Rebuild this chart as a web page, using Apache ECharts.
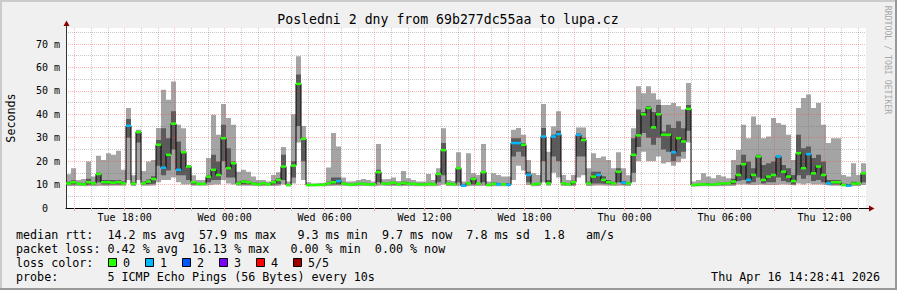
<!DOCTYPE html>
<html><head><meta charset="utf-8">
<script src="https://cdn.jsdelivr.net/npm/echarts@6/dist/echarts.min.js"></script>
<style>html,body{margin:0;padding:0;background:#f0f0f0}#c{width:897px;height:290px}</style>
</head><body><div id="c"></div>
<script>
// ---- time axis (hours since Tue 00:00) ----
const START_H = 14.48, BIN_H = 0.3, END_H = 62.48;
const Y_MAX = 76.83;
const tickHours = [18, 24, 30, 36, 42, 48, 54, 60];
const tickLabels = ['Tue 18:00', 'Wed 00:00', 'Wed 06:00', 'Wed 12:00', 'Wed 18:00', 'Thu 00:00', 'Thu 06:00', 'Thu 12:00'];
const yLabelVals = [0, 10, 20, 30, 40, 50, 60, 70];

// ---- smoke / median data (ms), one value per 0.3 h bin ----
const maxV = [14.4,17.0,12.0,12.4,19.8,13.4,22.3,20.5,23.4,22.7, 24.4,16.3,42.7,14.0,33.4,15.8,19.8,20.5,34.1,50.5, 46.2,54.0,35.5,34.0,18.4,14.0,12.0,12.0,21.3,39.8, 31.3,44.4,38.4,35.5,15.5,16.3,15.5,13.4,12.0,12.0,
11.3,14.1,15.3,26.0,11.3,40.0,64.8,35.0,11.0,10.5, 10.7,10.8,17.3,32.0,26.3,13.0,11.3,11.5,12.0,12.4, 12.0,11.3,27.3,12.3,12.4,13.0,11.5,15.8,12.7,12.0, 11.3,11.3,14.5,12.0,17.0,34.0,12.0,11.5,23.8,11.3,
23.4,14.8,14.1,27.3,11.3,14.8,14.1,13.4,13.4,33.4, 34.1,31.3,20.5,14.8,14.1,44.4,24.0,34.8,41.3,14.1, 12.0,14.1,34.4,34.4,17.0,23.4,21.3,22.0,20.5,17.0, 23.8,17.0,14.0,34.0,52.0,49.0,52.0,49.0,46.3,44.0,
44.0,44.8,43.4,42.0,53.4,11.3,12.0,14.8,13.4,12.7, 14.1,13.4,12.7,20.5,24.8,35.5,29.8,39.1,35.5,29.8, 30.5,38.4,36.3,35.5,31.3,20.5,42.7,47.0,48.4,42.7, 44.8,35.5,27.7,29.8,29.8,14.1,13.4,19.1,14.1,19.1];
const hiV = [11.2,11.8,10.8,10.6,12.5,11.0,15.0,12.0,12.0,11.8, 12.0,11.3,38.0,11.0,32.6,11.2,12.2,13.5,29.0,34.0, 29.8,41.3,28.4,24.0,18.0,11.5,10.7,10.7,14.0,22.7, 19.8,35.5,25.5,19.8,11.2,12.0,11.6,10.9,10.6,11.0,
10.5,11.6,12.7,22.7,10.2,20.0,57.0,30.0,10.2,10.1, 10.2,10.2,11.2,13.0,13.0,10.9,10.4,10.4,10.8,10.8, 10.5,10.5,16.3,10.8,10.8,11.2,10.5,11.3,10.8,10.6, 10.4,10.4,10.8,10.5,15.0,27.7,10.8,10.5,17.5,10.0,
11.0,13.0,10.8,15.5,10.2,10.9,10.6,10.6,10.4,29.8, 29.8,27.7,15.5,10.7,10.9,34.1,12.0,31.3,33.0,11.0, 10.5,11.6,31.8,30.0,11.2,15.5,15.5,13.5,12.0,11.2, 17.0,11.5,11.0,29.8,42.0,41.0,43.5,41.0,44.0,32.7,
35.5,34.1,37.0,34.0,44.0,10.2,10.4,10.7,10.4,10.4, 10.8,11.0,11.0,12.5,18.4,22.7,19.8,17.0,22.7,18.4, 19.1,19.8,22.5,18.4,17.0,14.1,31.3,25.5,26.3,21.3, 22.7,19.8,12.0,12.0,11.8,10.3,10.0,11.2,11.0,15.0];
const medV = [10.5,11.0,10.4,10.1,11.0,10.5,14.5,11.0,11.0,10.8, 11.0,10.5,35.1,10.4,32.4,10.5,11.3,12.4,27.0,17.2, 22.7,36.0,16.3,23.8,17.7,11.0,10.3,10.3,13.4,16.3, 14.1,29.8,17.0,19.1,10.5,11.3,11.0,10.4,10.1,10.5,
10.1,11.0,12.0,17.7,9.8,18.1,53.0,29.5,9.8,9.8, 9.9,9.9,10.5,11.0,11.5,10.4,10.0,10.0,10.4,10.3, 10.1,10.1,15.3,10.4,10.4,10.8,10.1,10.7,10.4,10.3, 10.1,10.0,10.3,10.1,14.5,24.7,10.4,10.1,17.0,9.5,
10.5,12.4,10.4,15.3,9.8,10.3,10.1,10.1,9.9,27.7, 27.7,27.0,14.1,10.1,10.4,30.5,10.5,30.5,31.5,10.5, 10.1,11.0,31.2,29.0,10.5,13.4,14.1,12.0,11.0,10.5, 15.5,10.8,10.5,22.7,31.0,40.0,42.7,34.4,40.0,31.3,
31.2,23.8,29.8,28.4,42.3,9.8,10.0,10.1,10.0,10.0, 10.3,10.5,10.5,11.3,14.1,18.7,12.0,14.1,22.0,12.0, 13.4,14.1,22.0,15.5,13.4,11.5,23.4,17.0,23.0,14.8, 17.7,14.1,10.5,11.0,11.0,9.8,9.5,10.4,10.5,14.8];
const loV = [10.0,10.0,10.0,9.8,10.0,9.9,11.0,10.0,10.0,10.0, 10.0,10.0,30.0,10.0,28.0,10.0,10.2,10.5,18.0,14.0, 16.0,25.0,14.0,14.0,12.0,10.0,10.0,10.0,11.0,12.0, 12.0,20.0,13.0,13.0,10.0,10.0,10.0,10.0,9.8,10.0,
9.8,10.0,10.2,12.0,9.6,13.0,35.0,20.0,9.6,9.6, 9.6,9.6,10.0,10.0,10.0,10.0,9.7,9.7,10.0,10.0, 9.8,9.8,11.0,10.0,10.0,10.0,9.8,10.0,10.0,9.9, 9.8,9.7,9.9,9.8,11.0,14.0,10.0,9.8,11.0,9.4,
10.0,10.0,10.0,11.0,9.6,9.9,9.8,9.8,9.7,22.0, 24.0,22.0,11.0,9.8,10.0,20.0,10.0,22.0,20.0,10.0, 9.8,10.0,22.0,22.0,10.0,10.5,10.5,10.2,10.0,10.0, 11.0,10.0,10.0,15.0,26.0,32.0,30.0,27.0,30.0,25.0,
24.0,20.0,22.0,24.0,33.0,9.5,9.7,9.8,9.7,9.7, 9.9,10.0,10.0,10.0,11.5,12.0,10.5,11.0,13.0,10.5, 11.0,11.0,13.0,11.5,11.0,10.0,14.0,12.5,14.0,11.5, 12.0,11.0,10.0,10.0,10.0,9.6,9.4,10.0,10.0,11.0];
const minV = [9.4,9.4,9.4,9.3,9.4,9.3,9.5,9.4,9.5,9.5, 9.5,9.5,12.0,9.4,12.0,9.5,9.5,9.6,11.0,12.0, 12.0,13.0,11.0,10.0,10.0,9.5,9.5,9.5,9.8,10.0, 10.0,12.0,10.5,10.0,9.5,9.5,9.5,9.4,9.3,9.4,
9.4,9.4,9.5,10.0,9.3,10.5,28.0,12.0,9.3,9.3, 9.3,9.3,9.4,9.5,9.5,9.4,9.3,9.3,9.4,9.4, 9.3,9.3,9.6,9.4,9.4,9.4,9.3,9.4,9.4,9.3, 9.3,9.3,9.3,9.3,9.6,10.0,9.4,9.3,9.6,9.2,
9.4,9.4,9.4,9.5,9.3,9.3,9.3,9.3,9.3,12.0, 18.0,16.0,9.8,9.3,9.4,11.0,9.5,15.0,13.0,9.4, 9.3,9.4,13.0,14.0,9.4,9.6,9.6,9.5,9.5,9.4, 9.6,9.4,9.4,11.0,20.0,24.0,20.0,20.0,22.0,19.0,
19.5,18.0,19.5,21.0,28.0,9.2,9.3,9.3,9.3,9.3, 9.3,9.4,9.4,9.5,10.0,10.0,9.8,9.8,10.0,9.8, 9.8,9.8,10.0,10.0,9.8,9.6,10.5,10.0,10.5,10.0, 10.0,9.8,9.5,9.5,9.5,9.3,9.2,9.4,9.4,9.8];
const lossV = [0,0,0,0,0,0,0,0,0,0, 0,0,1,0,0,0,0,0,0,1, 0,0,1,0,0,0,0,0,0,0, 0,0,0,0,0,0,0,0,0,0,
0,0,0,0,0,0,0,0,0,0, 0,0,0,0,1,0,0,0,0,0, 0,0,0,0,0,0,0,0,0,0, 0,0,0,0,0,0,0,0,0,1,
0,0,0,0,0,0,1,0,1,1, 1,0,1,0,0,1,0,1,1,0, 0,0,1,0,0,0,1,0,0,0, 0,1,0,0,0,0,0,0,0,0,
0,1,0,0,0,0,0,0,0,0, 0,0,0,0,0,0,1,0,0,0, 0,0,1,0,0,0,0,0,1,0, 0,0,1,0,0,0,1,0,0,0];

const LOSS_COLORS = ['#26ff00', '#00b8ff', '#0059ff', '#7e00ff', '#ff0000', '#a10000'];
const LOSS_LABELS = ['0', '1', '2', '3', '4', '5/5'];

const MONO = '"DejaVu Sans Mono", monospace';
const MINOR = 'rgba(110,110,110,0.38)';
const MAJOR = 'rgba(255,60,60,0.38)';

const minorHours = [], majorHours = [];
for (let h = 15; h <= 62; h++) (h % 3 === 0 ? majorHours : minorHours).push(h);
const minorY = [5, 15, 25, 35, 45, 55, 65, 75];
const majorY = [10, 20, 30, 40, 50, 60, 70];

function stepData(arr) {
  const d = arr.map((v, i) => [START_H + BIN_H * i, v]);
  d.push([END_H, arr[arr.length - 1]]);
  return d;
}
function smoke(arr, color) {
  return { type: 'line', step: 'end', data: stepData(arr), symbol: 'none', silent: true, z: 2,
    lineStyle: { width: 0, opacity: 0 }, areaStyle: { color: color, opacity: 1 } };
}
const nb = s => s.replace(/ /g, '\u00a0');
const LFONT = '11.7px ' + MONO;
function txt(text, x, y, align, extra) {
  return Object.assign({ type: 'text', x: x, y: y, silent: true,
    style: { text: nb(text), x: 0, y: 0, font: LFONT, fill: '#000', align: align || 'left', verticalAlign: 'middle',
      textAlign: align || 'left', textVerticalAlign: 'middle' } }, extra || {});
}

const graphics = [
  { type: 'rect', shape: { x: 0, y: 0, width: 897, height: 2 }, style: { fill: '#cbcbcb' }, silent: true },
  { type: 'rect', shape: { x: 0, y: 0, width: 2, height: 290 }, style: { fill: '#cbcbcb' }, silent: true },
  { type: 'rect', shape: { x: 0, y: 288, width: 897, height: 2 }, style: { fill: '#999999' }, silent: true },
  { type: 'rect', shape: { x: 895, y: 0, width: 2, height: 290 }, style: { fill: '#999999' }, silent: true },
  txt('Posledni 2 dny from 69b277dc55aa to lupa.cz', 448, 19, 'center', {}),
  txt('Seconds', 10.5, 118, 'center', { rotation: Math.PI / 2 }),
  txt('RRDTOOL / TOBI OETIKER', 888, 60, 'center', { rotation: -Math.PI / 2 }),
  txt('median rtt:  14.2 ms avg  57.9 ms max   9.3 ms min  9.7 ms now  7.8 ms sd  1.8   am/s', 16, 234.5),
  txt('packet loss: 0.42 % avg  16.13 % max   0.00 % min  0.00 % now', 16, 248.5),
  txt('loss color:', 16, 262.5),
  txt('probe:       5 ICMP Echo Pings (56 Bytes) every 10s', 16, 276.5),
  txt('Thu Apr 16 14:28:41 2026', 880, 276.5, 'right'),
  { type: 'line', shape: { x1: 66.5, y1: 28, x2: 66.5, y2: 25 }, style: { stroke: '#333', lineWidth: 1 }, silent: true },
  { type: 'line', shape: { x1: 866, y1: 208.5, x2: 870, y2: 208.5 }, style: { stroke: '#000', lineWidth: 1 }, silent: true },
  { type: 'polygon', shape: { points: [[66.5, 20.5], [63.5, 26], [69.5, 26]] }, style: { fill: '#8b0000' }, silent: true },
  { type: 'polygon', shape: { points: [[874.5, 208.5], [869, 205.5], [869, 211.5]] }, style: { fill: '#8b0000' }, silent: true }
];
graphics[4].style.font = '13.2px ' + MONO;
graphics[6].style.font = '8.2px ' + MONO;
graphics[6].style.fill = '#a8a8a8';
LOSS_LABELS.forEach((lab, i) => {
  const bx = 108.5 + 37 * i;
  graphics.push({ type: 'rect', shape: { x: bx, y: 258.5, width: 8, height: 8 },
    style: { fill: LOSS_COLORS[i], stroke: '#000', lineWidth: 1 }, silent: true });
  graphics.push(txt(lab, bx + 14.5, 262.5));
});

const axisFont = { fontFamily: MONO, fontSize: 10, color: '#000' };
const option = {
  animation: false,
  backgroundColor: '#f0f0f0',
  grid: { left: 66, top: 28, width: 800, height: 180, show: true, backgroundColor: '#ffffff', borderWidth: 0 },
  xAxis: [
    { type: 'value', min: START_H, max: END_H, z: 3,
      axisLine: { show: true, lineStyle: { color: '#000', width: 1 } },
      axisTick: { show: true, customValues: minorHours, length: 3, lineStyle: { color: '#cccccc' } },
      axisLabel: Object.assign({ customValues: tickHours, margin: 4,
        formatter: v => tickLabels[tickHours.indexOf(v)] || '' }, axisFont),
      splitLine: { show: true, lineStyle: { color: MINOR, type: [1, 1], width: 1 } } },
    { type: 'value', min: START_H, max: END_H, z: 3, position: 'bottom',
      axisLine: { show: false },
      axisTick: { show: true, customValues: majorHours, length: 3, lineStyle: { color: '#f5a0a0' } },
      axisLabel: { show: false },
      splitLine: { show: true, lineStyle: { color: MAJOR, type: [1, 1], width: 1 } } }
  ],
  yAxis: [
    { type: 'value', min: 0, max: Y_MAX, z: 3,
      axisLine: { show: true, lineStyle: { color: '#333', width: 1 } },
      axisTick: { show: false, customValues: minorY },
      axisLabel: Object.assign({ customValues: yLabelVals, margin: 6,
        formatter: v => v === 0 ? '0\u00a0\u00a0' : v + '\u00a0m' }, axisFont),
      splitLine: { show: true, lineStyle: { color: MINOR, type: [1, 1], width: 1 } } },
    { type: 'value', min: 0, max: Y_MAX, z: 3, position: 'left', offset: 0,
      axisLine: { show: false },
      axisTick: { show: false, customValues: majorY },
      axisLabel: { show: false },
      splitLine: { show: true, lineStyle: { color: MAJOR, type: [1, 1], width: 1 } } }
  ],
  series: [
    smoke(maxV, '#a4a4a4'),
    smoke(hiV, '#5a5a5a'),
    smoke(loV, '#a4a4a4'),
    smoke(minV, '#ffffff'),
    { type: 'line', step: 'end', data: stepData(medV), symbol: 'none', silent: true, z: 4,
      lineStyle: { color: '#000', width: 1 } },
    { type: 'scatter', symbol: 'rect', symbolSize: [5, 2.5], silent: true, z: 5,
      data: medV.map((v, i) => [START_H + BIN_H * (i + 0.5), v, lossV[i]]),
      itemStyle: { color: p => LOSS_COLORS[p.data[2]], opacity: 1 } }
  ],
  graphic: { elements: graphics }
};
const chart = echarts.init(document.getElementById('c'), null, { renderer: 'svg' });
chart.setOption(option);
</script>
</body></html>
